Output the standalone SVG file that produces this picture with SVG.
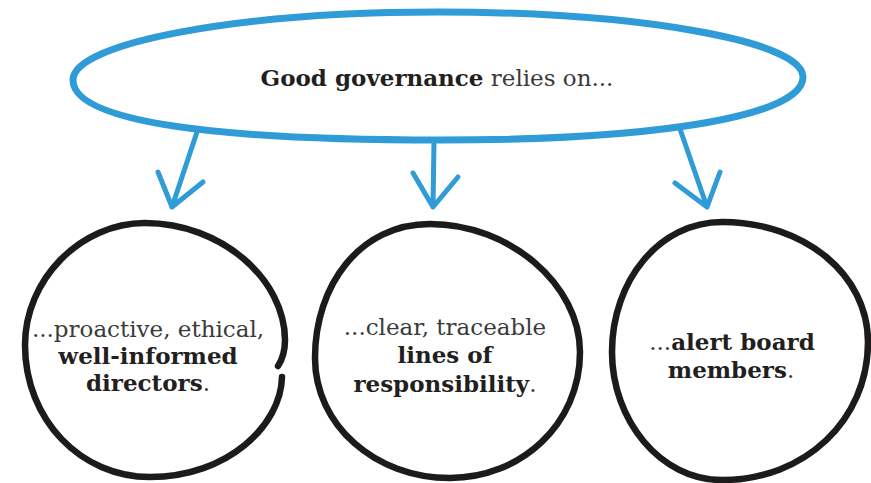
<svg xmlns="http://www.w3.org/2000/svg" width="871" height="483" viewBox="0 0 871 483">
<style>
  .blue { fill: none; stroke: #2f9bd7; stroke-linecap: round; stroke-linejoin: round; }
  .ring { fill: none; stroke: #1c1a1a; stroke-width: 6.5; stroke-linecap: round; stroke-linejoin: round; }
  .txt { font-family: "DejaVu Serif", "Liberation Serif", serif; font-size: 23px; text-anchor: middle; fill: #3a3a3a; }
  .b { font-weight: bold; fill: #231f20; }
</style>
<rect width="871" height="483" fill="#ffffff"/>
<g id="top-node">
  <path class="blue" stroke-width="7" d="M73,80 C73,43 237,12 438,12 C639,12 803,41 803,77 C803,115 665,140 440,140 C200,140 73,120 73,80 Z"/>
  <text class="txt" x="437" y="86"><tspan class="b">Good governance</tspan> relies on...</text>
</g>
<g id="connectors">
  <path class="blue" stroke-width="5" d="M197,132 L172,207 M158,172 L172,207 L203,182"/>
  <path class="blue" stroke-width="5" d="M434,141 L433,207 M413,173 L433,207 L458,177"/>
  <path class="blue" stroke-width="5" d="M680,129 L707,207 M675,183 L707,207 L720,172"/>
</g>
<g id="node-directors">
  <path class="ring" d="M282,377 C281,425 228,477 150,477 C81,477 25,420 25,345 C25,280 80,223 145,223 C222,223 285,280 285,340 C285,352 282,360 278,366"/>
  <text class="txt" x="148" y="337">...proactive, ethical,</text>
  <text class="txt" x="148" y="364"><tspan class="b">well-informed</tspan></text>
  <text class="txt" x="148" y="391"><tspan class="b">directors</tspan>.</text>
</g>
<g id="node-lines">
  <path class="ring" d="M430,224 C510,224 580,285 580,352 C580,425 520,478 450,478 C375,478 315,425 315,358 C315,285 360,224 430,224 Z"/>
  <text class="txt" x="445" y="335">...clear, traceable</text>
  <text class="txt" x="445" y="363"><tspan class="b">lines of</tspan></text>
  <text class="txt" x="445" y="392"><tspan class="b">responsibility</tspan>.</text>
</g>
<g id="node-board">
  <path class="ring" d="M722,222 C805,222 868,275 868,342 C868,420 805,480 722,480 C660,480 612,420 612,352 C612,280 660,222 722,222 Z"/>
  <text class="txt" x="732" y="350">...<tspan class="b">alert board</tspan></text>
  <text class="txt" x="731" y="378"><tspan class="b">members</tspan>.</text>
</g>
</svg>
